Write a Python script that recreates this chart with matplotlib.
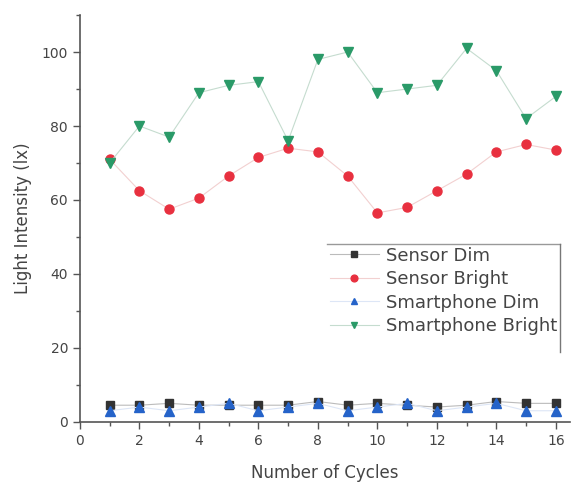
import matplotlib
matplotlib.use("Agg")
import matplotlib.pyplot as plt
from matplotlib.ticker import MultipleLocator
from matplotlib.lines import Line2D

plt.rcParams['font.family'] = ['DejaVu Sans']

cycles = list(range(1, 17))
sensor_dim = [4.5, 4.5, 5, 4.5, 4.5, 4.5, 4.5, 5.5, 4.5, 5, 4.5, 4, 4.5, 5.5, 5, 5]
sensor_bright = [71, 62.5, 57.5, 60.5, 66.5, 71.5, 74, 73, 66.5, 56.5, 58, 62.5, 67, 73, 75, 73.5]
phone_dim = [3, 4, 3, 4, 5, 3, 4, 5, 3, 4, 5, 3, 4, 5, 3, 3]
phone_bright = [70, 80, 77, 89, 91, 92, 76, 98, 100, 89, 90, 91, 101, 95, 82, 88]

W, H = 575, 486
fig = plt.figure(figsize=(W / 100, H / 100), dpi=100)
ax = fig.add_axes([0.139, 0.132, 0.852, 0.837])

ax.plot(cycles, sensor_dim, marker='s', color='#bbbbbb', lw=0.8, mfc='#333333', mec='#333333', ms=5.5, label='Sensor Dim')
ax.plot(cycles, sensor_bright, marker='o', color='#f2d0d0', lw=0.8, mfc='#e8303f', mec='#e8303f', ms=6.5, label='Sensor Bright')
ax.plot(cycles, phone_dim, marker='^', color='#dde6f6', lw=0.8, mfc='#2563c9', mec='#2563c9', ms=6.5, label='Smartphone Dim')
ax.plot(cycles, phone_bright, marker='v', color='#c5dccf', lw=0.8, mfc='#2a9a68', mec='#2a9a68', ms=6.5, label='Smartphone Bright')

ax.set_xlim(0, 16.47)
ax.set_ylim(0, 110)
ax.xaxis.set_major_locator(MultipleLocator(2))
ax.xaxis.set_minor_locator(MultipleLocator(1))
ax.yaxis.set_minor_locator(MultipleLocator(10))
ax.set_yticks([0, 20, 40, 60, 80, 100])
for s in ['top', 'right']:
    ax.spines[s].set_visible(False)
for s in ['left', 'bottom']:
    ax.spines[s].set_color('#555555')
    ax.spines[s].set_linewidth(1.2)
ax.tick_params(which='major', direction='out', length=5, width=1, colors='#555555', labelsize=10, labelcolor='#444444')
ax.tick_params(which='minor', direction='out', length=3, width=1, colors='#555555')

ax.set_xlabel('Number of Cycles', fontsize=12, color='#444444', labelpad=12)
ax.set_ylabel('Light Intensity (lx)', fontsize=12, color='#444444', labelpad=7)

leg = ax.legend(loc='upper right', bbox_to_anchor=(560 / W, 1 - 244 / H), bbox_transform=fig.transFigure,
                fontsize=13, frameon=False, handlelength=2.7, borderpad=0.15,
                labelspacing=0.3, handletextpad=0.4, borderaxespad=0, markerscale=0.75)
for t in leg.get_texts():
    t.set_color('#444444')

fig.canvas.draw()
bb = leg.get_window_extent().transformed(fig.transFigure.inverted())
fig.add_artist(Line2D([bb.x0, bb.x1], [bb.y1, bb.y1], transform=fig.transFigure, color='#999999', lw=1))
fig.add_artist(Line2D([bb.x1, bb.x1], [bb.y0 - 14 / H, bb.y1], transform=fig.transFigure, color='#777777', lw=1))

fig.savefig('out.png', dpi=100)
